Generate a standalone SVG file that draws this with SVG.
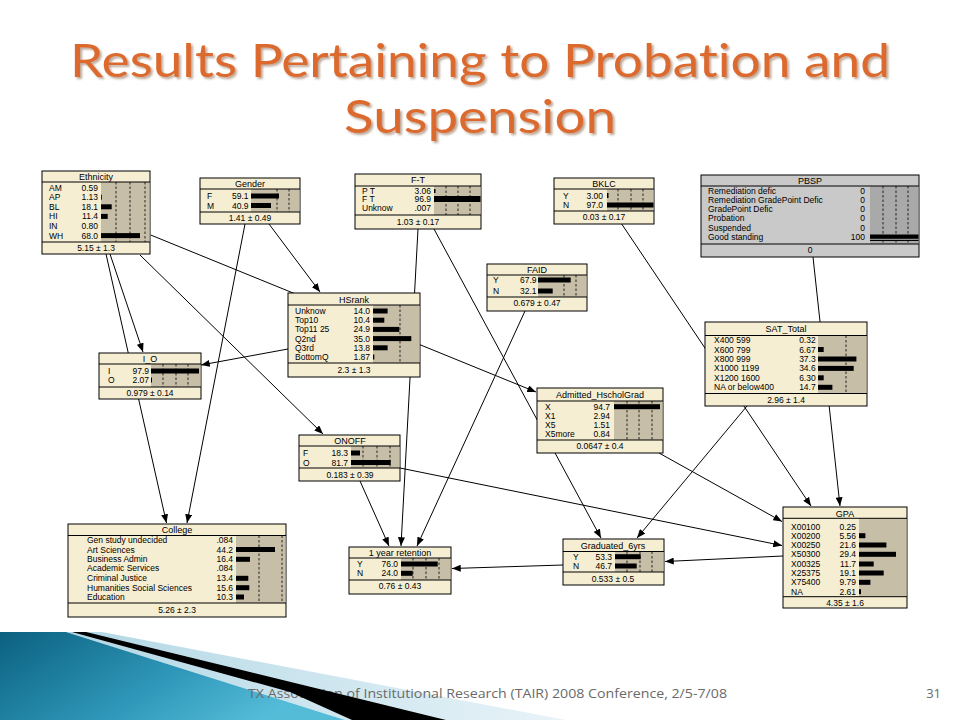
<svg xmlns="http://www.w3.org/2000/svg" width="960" height="720" viewBox="0 0 960 720">
<defs>
<style>
.nb{fill:#f6eed3;stroke:#000;stroke-width:1}
.pb{fill:#c9c9c9;stroke:#000;stroke-width:1}
.ba{fill:#c7bea8}
.pa{fill:#a9a9a9}
.sep{stroke:#000;stroke-width:1}
.d{stroke:#000;stroke-width:0.8;stroke-dasharray:2.5 2;fill:none}
.t{font-family:"Liberation Sans",Arial,sans-serif;font-size:8.5px;fill:#000}
.h{font-family:"Liberation Sans",Arial,sans-serif;font-size:9px;fill:#000;text-anchor:middle}
.c{text-anchor:middle}
.r{text-anchor:end}
.cn line{stroke:#000;stroke-width:1;marker-end:url(#ah)}
</style>
<marker id="ah" viewBox="0 0 10 8" refX="10" refY="4" markerWidth="9" markerHeight="7" markerUnits="userSpaceOnUse" orient="auto">
<path d="M0,0L10,4L0,8z" fill="#000"/>
</marker>
<filter id="sh" x="-5%" y="-20%" width="110%" height="140%">
<feDropShadow dx="2" dy="2" stdDeviation="1" flood-color="#6b3a1a" flood-opacity="0.45"/>
</filter>
<linearGradient id="teal" x1="0" y1="0" x2="1" y2="0.4">
<stop offset="0" stop-color="#0b607f"/>
<stop offset="0.6" stop-color="#2f98ba"/>
<stop offset="1" stop-color="#55bcd8"/>
</linearGradient>
<linearGradient id="lb" x1="0" y1="0" x2="1" y2="0">
<stop offset="0" stop-color="#a9d3e2"/>
<stop offset="1" stop-color="#e6f2f7"/>
</linearGradient>
</defs>
<rect width="960" height="720" fill="#fff"/>

<g id="title" font-family="Lato,'Open Sans',sans-serif" font-size="47" text-anchor="middle" fill="#dc6b2f" filter="url(#sh)" style="font-variant-ligatures:none">
<text x="480" y="77" textLength="820" lengthAdjust="spacingAndGlyphs">Results Pertaining to Probation and</text>
<text x="480" y="133" textLength="272" lengthAdjust="spacingAndGlyphs">Suspension</text>
</g>

<g id="footer-shapes">
<polygon points="66,632 102,632 566,720 345,720" fill="url(#lb)" opacity="0.9"/>
<polygon points="0,632 66,632 345,720 0,720" fill="url(#teal)"/>
</g>

<g id="connectors" class="cn">
<line x1="110" y1="254" x2="143" y2="352"/>
<line x1="106" y1="254" x2="166.5" y2="523"/>
<line x1="140" y1="255" x2="323" y2="434"/>
<line x1="150.7" y1="235" x2="536" y2="392"/>
<line x1="245" y1="224" x2="187" y2="523"/>
<line x1="269" y1="224" x2="320" y2="292"/>
<line x1="288" y1="349" x2="201" y2="365"/>
<line x1="418" y1="229" x2="401" y2="546"/>
<line x1="434" y1="229" x2="601" y2="538"/>
<line x1="525" y1="311" x2="417" y2="546"/>
<line x1="360" y1="481" x2="389" y2="546"/>
<line x1="400" y1="468" x2="782" y2="545.5"/>
<line x1="659" y1="453" x2="782" y2="521.5"/>
<line x1="621.7" y1="224" x2="811" y2="506"/>
<line x1="747" y1="406" x2="637" y2="538"/>
<line x1="813" y1="257" x2="840" y2="506"/>
<line x1="563" y1="565" x2="452" y2="568.5"/>
<line x1="783" y1="556" x2="665" y2="561.5"/>
</g>

<g id="n-ethnicity">
<rect class="nb" x="42" y="171" width="108" height="83"/>
<rect class="ba" x="101" y="182" width="48.5" height="60"/>
<path class="sep" d="M42 182H150M42 242H150"/>
<path class="d" d="M116 182V242M130 182V242M145 182V242"/>
<text class="h" x="96" y="180">Ethnicity</text>
<g class="t"><text x="49" y="190.5">AM</text><text x="49" y="200.2">AP</text><text x="49" y="209.8">BL</text><text x="49" y="219.4">HI</text><text x="49" y="229">IN</text><text x="49" y="238.6">WH</text></g>
<g class="t r"><text x="98" y="190.5">0.59</text><text x="98" y="200.2">1.13</text><text x="98" y="209.8">18.1</text><text x="98" y="219.4">11.4</text><text x="98" y="229">0.80</text><text x="98" y="238.6">68.0</text></g>
<rect x="101" y="204.3" width="10.7" height="5"/><rect x="101" y="213.9" width="6.7" height="5"/><rect x="101" y="233.1" width="39" height="5"/><rect x="101" y="194.7" width="0.8" height="5"/>
<text class="t c" x="96" y="251">5.15 ± 1.3</text>
</g>

<g id="n-gender">
<rect class="nb" x="200" y="178" width="100" height="46"/>
<rect class="ba" x="251" y="189" width="48.5" height="23"/>
<path class="sep" d="M200 189H300M200 212H300"/>
<path class="d" d="M277 189V212M289 189V212"/>
<text class="h" x="250" y="187">Gender</text>
<g class="t"><text x="207" y="199">F</text><text x="207" y="208.5">M</text></g>
<g class="t r"><text x="248.5" y="199">59.1</text><text x="248.5" y="208.5">40.9</text></g>
<rect x="251" y="193.5" width="28" height="5"/><rect x="251" y="203" width="20" height="5"/>
<text class="t c" x="250" y="221">1.41 ± 0.49</text>
</g>

<g id="n-ft">
<rect class="nb" x="355" y="174" width="126" height="55"/>
<rect class="ba" x="434" y="186" width="46.5" height="29"/>
<path class="sep" d="M355 186H481M355 215H481"/>
<path class="d" d="M446 186V215M458 186V215M470 186V215"/>
<text class="h" x="418" y="183">F-T</text>
<g class="t" font-size="7"><text x="362" y="193.5">P T</text><text x="362" y="202">F T</text><text x="362" y="210.5">Unknow</text></g>
<g class="t r" font-size="7"><text x="431" y="193.5">3.06</text><text x="431" y="202">96.9</text><text x="431" y="210.5">.007</text></g>
<rect x="434" y="189" width="1.5" height="4"/><rect x="434" y="196" width="46.5" height="6"/>
<text class="t c" x="418" y="225">1.03 ± 0.17</text>
</g>

<g id="n-bklc">
<rect class="nb" x="554" y="178" width="100" height="46"/>
<rect class="ba" x="607" y="189" width="46.5" height="22"/>
<path class="sep" d="M554 189H654M554 211H654"/>
<path class="d" d="M618 189V211M631 189V211M643 189V211"/>
<text class="h" x="604" y="187">BKLC</text>
<g class="t"><text x="563" y="198.5">Y</text><text x="563" y="208">N</text></g>
<g class="t r"><text x="603" y="198.5">3.00</text><text x="603" y="208">97.0</text></g>
<rect x="607" y="193" width="1.5" height="5"/><rect x="607" y="202.5" width="46.5" height="5"/>
<text class="t c" x="604" y="220">0.03 ± 0.17</text>
</g>

<g id="n-faid">
<rect class="nb" x="487" y="264" width="100" height="47"/>
<rect class="ba" x="538" y="275" width="48.5" height="22"/>
<path class="sep" d="M487 275H587M487 297H587"/>
<path class="d" d="M564 275V297M576 275V297"/>
<text class="h" x="537" y="272.5">FAID</text>
<g class="t"><text x="493" y="283">Y</text><text x="493" y="294">N</text></g>
<g class="t r"><text x="536.5" y="283">67.9</text><text x="536.5" y="294">32.1</text></g>
<rect x="538" y="277.5" width="32.7" height="5"/><rect x="538" y="288.5" width="14.7" height="5"/>
<text class="t c" x="537" y="306">0.679 ± 0.47</text>
</g>

<g id="n-pbsp">
<rect class="pb" x="701" y="175" width="218" height="82"/>
<rect class="pa" x="870" y="186" width="48.5" height="58"/>
<path class="sep" d="M701 186H919M701 244H919"/>
<path class="d" d="M883 186V244M896 186V244M908 186V244"/>
<text class="h" x="810" y="183.5">PBSP</text>
<g class="t"><text x="708" y="194">Remediation defic</text><text x="708" y="203">Remediation GradePoint Defic</text><text x="708" y="212.3">GradePoint Defic</text><text x="708" y="221.3">Probation</text><text x="708" y="230.7">Suspended</text><text x="708" y="240.3">Good standing</text></g>
<g class="t r"><text x="865" y="194">0</text><text x="865" y="203">0</text><text x="865" y="212.3">0</text><text x="865" y="221.3">0</text><text x="865" y="230.7">0</text><text x="865" y="240.3">100</text></g>
<rect x="870" y="234.5" width="48.5" height="6.5"/>
<path d="M870 239.3H918.5" stroke="#fff" stroke-width="0.7"/>
<text class="t c" x="810" y="253">0</text>
</g>

<g id="n-hsrank">
<rect class="nb" x="288" y="293" width="132" height="84"/>
<rect class="ba" x="373" y="305" width="46.5" height="58"/>
<path class="sep" d="M288 305H420M288 363H420"/>
<path class="d" d="M400 305V363"/>
<text class="h" x="354" y="302.5">HSrank</text>
<g class="t"><text x="295" y="314">Unknow</text><text x="295" y="323.2">Top10</text><text x="295" y="332.4">Top11 25</text><text x="295" y="341.6">Q2nd</text><text x="295" y="350.8">Q3rd</text><text x="295" y="360">BottomQ</text></g>
<g class="t r"><text x="370" y="314">14.0</text><text x="370" y="323.2">10.4</text><text x="370" y="332.4">24.9</text><text x="370" y="341.6">35.0</text><text x="370" y="350.8">13.8</text><text x="370" y="360">1.87</text></g>
<rect x="373" y="308.5" width="14.6" height="5"/><rect x="373" y="317.7" width="11.3" height="5"/><rect x="373" y="326.9" width="26.3" height="5"/><rect x="373" y="336.1" width="38.3" height="5"/><rect x="373" y="345.3" width="14.6" height="5"/><rect x="373" y="354.5" width="1.3" height="5"/>
<text class="t c" x="354" y="373">2.3 ± 1.3</text>
</g>

<g id="n-sat">
<rect class="nb" x="705" y="322" width="162" height="84"/>
<rect class="ba" x="818" y="335.5" width="48.5" height="58"/>
<path class="sep" d="M705 335.5H867M705 393.5H867"/>
<path class="d" d="M846 335.5V393.5"/>
<text class="h" x="786" y="332">SAT_Total</text>
<g class="t"><text x="714" y="343">X400 599</text><text x="714" y="352.5">X600 799</text><text x="714" y="362">X800 999</text><text x="714" y="371.4">X1000 1199</text><text x="714" y="380.8">X1200 1600</text><text x="714" y="390.3">NA or below400</text></g>
<g class="t r"><text x="815.7" y="343">0.32</text><text x="815.7" y="352.5">6.67</text><text x="815.7" y="362">37.3</text><text x="815.7" y="371.4">34.6</text><text x="815.7" y="380.8">6.30</text><text x="815.7" y="390.3">14.7</text></g>
<rect x="818" y="347" width="5.7" height="5"/><rect x="818" y="356.5" width="38.4" height="5"/><rect x="818" y="365.9" width="35.7" height="5"/><rect x="818" y="375.3" width="5.7" height="5"/><rect x="818" y="384.8" width="14.4" height="5"/>
<text class="t c" x="786" y="403">2.96 ± 1.4</text>
</g>

<g id="n-io">
<rect class="nb" x="99" y="353" width="102" height="46"/>
<rect class="ba" x="151" y="364" width="49.5" height="23"/>
<path class="sep" d="M99 364H201M99 387H201"/>
<path class="d" d="M163 364V387M176 364V387M188 364V387"/>
<text class="h" x="150" y="361.5">I_O</text>
<g class="t"><text x="108" y="374">I</text><text x="108" y="383">O</text></g>
<g class="t r"><text x="149" y="374">97.9</text><text x="149" y="383">2.07</text></g>
<rect x="151" y="368.5" width="48" height="5"/><rect x="151" y="377.5" width="1" height="5"/>
<text class="t c" x="150" y="396">0.979 ± 0.14</text>
</g>

<g id="n-onoff">
<rect class="nb" x="299" y="435" width="101" height="46"/>
<rect class="ba" x="351" y="446" width="48.5" height="22"/>
<path class="sep" d="M299 446H400M299 468H400"/>
<path class="d" d="M363 446V468M377 446V468M390 446V468"/>
<text class="h" x="350" y="444">ONOFF</text>
<g class="t"><text x="303" y="456">F</text><text x="303" y="465.5">O</text></g>
<g class="t r"><text x="348" y="456">18.3</text><text x="348" y="465.5">81.7</text></g>
<rect x="351" y="450.5" width="9" height="5"/><rect x="351" y="460" width="39.7" height="5"/>
<text class="t c" x="350" y="477.5">0.183 ± 0.39</text>
</g>

<g id="n-admitted">
<rect class="nb" x="537" y="388" width="126" height="65"/>
<rect class="ba" x="614" y="401" width="48.5" height="39"/>
<path class="sep" d="M537 401H663M537 440H663"/>
<path class="d" d="M627 401V440M639 401V440M652 401V440"/>
<text class="h" x="600" y="398">Admitted_HscholGrad</text>
<g class="t"><text x="545" y="409.7">X</text><text x="545" y="419">X1</text><text x="545" y="428">X5</text><text x="545" y="437">X5more</text></g>
<g class="t r"><text x="610" y="409.7">94.7</text><text x="610" y="419">2.94</text><text x="610" y="428">1.51</text><text x="610" y="437">0.84</text></g>
<rect x="614" y="404.2" width="46" height="5"/>
<text class="t c" x="600" y="449">0.0647 ± 0.4</text>
</g>

<g id="n-college">
<rect class="nb" x="68" y="524" width="218" height="93"/>
<rect class="ba" x="236" y="535.5" width="49.5" height="67.5"/>
<path class="sep" d="M68 535.5H286M68 603H286"/>
<path class="d" d="M259 535.5V603M282 535.5V603"/>
<text class="h" x="177" y="533">College</text>
<g class="t"><text x="87" y="543">Gen study undecided</text><text x="87" y="552.5">Art Sciences</text><text x="87" y="562.3">Business Admin</text><text x="87" y="571.3">Academic Services</text><text x="87" y="581.3">Criminal Justice</text><text x="87" y="590.7">Humanities Social Sciences</text><text x="87" y="600">Education</text></g>
<g class="t r"><text x="233" y="543">.084</text><text x="233" y="552.5">44.2</text><text x="233" y="562.3">16.4</text><text x="233" y="571.3">.084</text><text x="233" y="581.3">13.4</text><text x="233" y="590.7">15.6</text><text x="233" y="600">10.3</text></g>
<rect x="236" y="547" width="39" height="5"/><rect x="236" y="556.8" width="14" height="5"/><rect x="236" y="575.8" width="12.3" height="5"/><rect x="236" y="585.2" width="13.3" height="5"/><rect x="236" y="594.5" width="8" height="5"/>
<text class="t c" x="177" y="612.5">5.26 ± 2.3</text>
</g>

<g id="n-retention">
<rect class="nb" x="349" y="547" width="102" height="47"/>
<rect class="ba" x="401" y="558" width="49.5" height="22"/>
<path class="sep" d="M349 558H451M349 580H451"/>
<path class="d" d="M413 558V580M426 558V580M439 558V580"/>
<text class="h" x="400" y="556">1 year retention</text>
<g class="t"><text x="357" y="567">Y</text><text x="357" y="576.3">N</text></g>
<g class="t r"><text x="398" y="567">76.0</text><text x="398" y="576.3">24.0</text></g>
<rect x="401" y="561.5" width="36.7" height="5"/><rect x="401" y="570.8" width="11.7" height="5"/>
<text class="t c" x="400" y="589">0.76 ± 0.43</text>
</g>

<g id="n-graduated">
<rect class="nb" x="563" y="539" width="101" height="46"/>
<rect class="ba" x="615" y="551.5" width="48.5" height="20.5"/>
<path class="sep" d="M563 551.5H664M563 572H664"/>
<path class="d" d="M627 551.5V572M640 551.5V572M652 551.5V572"/>
<text class="h" x="613" y="549">Graduated_6yrs</text>
<g class="t"><text x="573" y="559.7">Y</text><text x="573" y="569">N</text></g>
<g class="t r"><text x="612" y="559.7">53.3</text><text x="612" y="569">46.7</text></g>
<rect x="615" y="554.2" width="25.7" height="5"/><rect x="615" y="563.5" width="21.7" height="5"/>
<text class="t c" x="613" y="581.5">0.533 ± 0.5</text>
</g>

<g id="n-gpa">
<rect class="nb" x="783" y="507" width="124" height="101"/>
<rect class="ba" x="859" y="518.3" width="47.5" height="78.4"/>
<path class="sep" d="M783 518.3H907M783 596.7H907"/>
<text class="h" x="845" y="517">GPA</text>
<g class="t"><text x="791" y="529.7">X00100</text><text x="791" y="538.7">X00200</text><text x="791" y="548">X00250</text><text x="791" y="557.3">X50300</text><text x="791" y="567">X00325</text><text x="791" y="576">X25375</text><text x="791" y="585.3">X75400</text><text x="791" y="594.7">NA</text></g>
<g class="t r"><text x="856" y="529.7">0.25</text><text x="856" y="538.7">5.56</text><text x="856" y="548">21.6</text><text x="856" y="557.3">29.4</text><text x="856" y="567">11.7</text><text x="856" y="576">19.1</text><text x="856" y="585.3">9.79</text><text x="856" y="594.7">2.61</text></g>
<rect x="859" y="533.2" width="6.4" height="5"/><rect x="859" y="542.5" width="27.4" height="5"/><rect x="859" y="551.8" width="37" height="5"/><rect x="859" y="561.5" width="14.7" height="5"/><rect x="859" y="570.5" width="24.7" height="5"/><rect x="859" y="579.8" width="11.4" height="5"/><rect x="859" y="589.2" width="2" height="5"/>
<text class="t c" x="845" y="606">4.35 ± 1.6</text>
</g>

<g id="footer">
<text x="248" y="698" font-family="'Open Sans','Liberation Sans',sans-serif" font-size="13" fill="#6a6a6a" textLength="479" lengthAdjust="spacingAndGlyphs">TX Association of Institutional Research (TAIR) 2008 Conference, 2/5-7/08</text>
<text x="941" y="698" font-family="'Open Sans','Liberation Sans',sans-serif" font-size="13" fill="#6a6a6a" text-anchor="end">31</text>
<polygon points="72,632 86,632 446,720 352,720 290,692" fill="#000"/>
</g>
</svg>
